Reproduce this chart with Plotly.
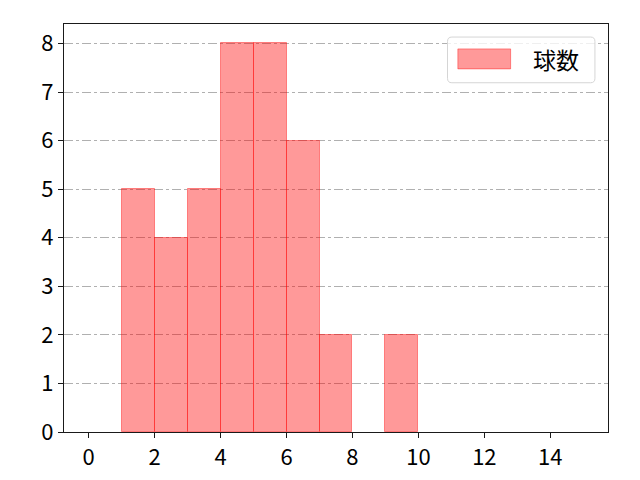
import plotly.graph_objects as go

# ヒストグラムのビン(左端)と度数
bin_left = [1, 2, 3, 4, 5, 6, 7, 8, 9]
counts = [5, 4, 5, 8, 8, 6, 2, 0, 2]
bin_width = 1
x_ticks = [0, 2, 4, 6, 8, 10, 12, 14]
y_ticks = [0, 1, 2, 3, 4, 5, 6, 7, 8]
series_name = "球数"

FONT = "Noto Sans CJK JP"
BAR_COLOR = "rgba(255,0,0,0.4)"

# 度数0のビンは枠線も描かない
edge_colors = [BAR_COLOR if c > 0 else "rgba(0,0,0,0)" for c in counts]

fig = go.Figure()
fig.add_trace(
    go.Bar(
        x=bin_left,
        y=counts,
        width=bin_width,
        offset=0,
        name=series_name,
        marker=dict(color=BAR_COLOR, line=dict(color=edge_colors, width=1)),
        showlegend=False,
    )
)

axis_common = dict(
    showline=True,
    linecolor="#1a1a1a",
    linewidth=1.4,
    mirror=True,
    ticks="outside",
    ticklen=5,
    tickwidth=1.4,
    tickcolor="#1a1a1a",
    tickfont=dict(family=FONT, size=22, color="#000000"),
    zeroline=False,
)

fig.update_xaxes(
    range=[-0.75, 15.75],
    tickvals=x_ticks,
    showgrid=False,
    **axis_common,
)
fig.update_yaxes(
    range=[0, 8.4],
    tickvals=y_ticks,
    showgrid=True,
    gridcolor="#b0b0b0",
    gridwidth=1,
    griddash="dashdot",
    **axis_common,
)

# 凡例 (matplotlib風に手描き)
lx0, lx1, ly0, ly1 = 0.705, 0.976, 0.856, 0.968
rx, ry = 0.008, 0.011
legend_path = (
    f"M {lx0 + rx},{ly0} L {lx1 - rx},{ly0} Q {lx1},{ly0} {lx1},{ly0 + ry} "
    f"L {lx1},{ly1 - ry} Q {lx1},{ly1} {lx1 - rx},{ly1} "
    f"L {lx0 + rx},{ly1} Q {lx0},{ly1} {lx0},{ly1 - ry} "
    f"L {lx0},{ly0 + ry} Q {lx0},{ly0} {lx0 + rx},{ly0} Z"
)
fig.add_shape(
    type="path",
    path=legend_path,
    xref="paper",
    yref="paper",
    fillcolor="rgba(255,255,255,0.8)",
    line=dict(color="#d5d5d5", width=1),
)
fig.add_shape(
    type="rect",
    xref="paper",
    yref="paper",
    x0=0.724,
    x1=0.821,
    y0=0.890,
    y1=0.939,
    fillcolor=BAR_COLOR,
    line=dict(color=BAR_COLOR, width=1),
)
fig.add_annotation(
    text=series_name,
    xref="paper",
    yref="paper",
    x=0.859,
    y=0.913,
    xanchor="left",
    yanchor="middle",
    showarrow=False,
    font=dict(family=FONT, size=23, color="#000000"),
)

# ページ側の余白(約8px)を見込んでマージンを調整
fig.update_layout(
    width=640,
    height=480,
    margin=dict(l=56, r=40, t=16, b=56),
    paper_bgcolor="white",
    plot_bgcolor="white",
    bargap=0,
)

fig.write_html("out.html")
